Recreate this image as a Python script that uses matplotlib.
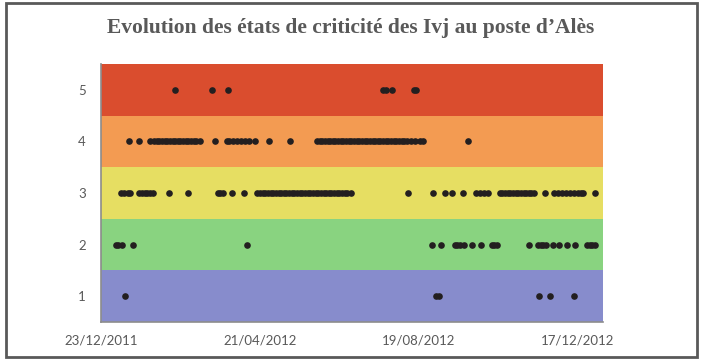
import datetime as dt
import matplotlib
matplotlib.use("Agg")
import matplotlib.pyplot as plt
import matplotlib.dates as mdates
from matplotlib.patches import Rectangle

# criticity states of the Ivj at the Alès post, as day offsets from the first date
start = dt.date(2011, 12, 23)
levels = [1, 2, 3, 4, 5]
band_colors = ["#878CCC", "#89D380", "#E6DE62", "#F39B52", "#DA4D2E"]

days_lvl5 = [56, 84, 96, 213, 215, 220, 236, 238]
days_lvl4 = [21, 29, 37, 40, 42, 44, 46, 48, 50, 52, 54, 56, 58, 60, 62, 64, 66,
             68, 70, 72, 75, 86, 95, 97, 100, 103, 106, 109, 112, 116, 127, 143,
             163, 165, 167, 169, 171, 173, 175, 177, 179, 181, 183, 185, 187, 189,
             191, 193, 195, 197, 199, 201, 203, 205, 207, 209, 211, 213, 215, 217,
             219, 221, 223, 225, 227, 229, 231, 234, 237, 241, 243, 277]
days_lvl3 = [15, 17, 20, 22, 29, 31, 33, 35, 37, 39, 51, 66, 88, 90, 92, 99, 108,
             118, 120, 122, 124, 126, 128, 130, 132, 134, 136, 138, 140, 142, 144,
             146, 148, 150, 152, 154, 156, 158, 160, 162, 164, 166, 168, 170, 172,
             174, 176, 178, 180, 182, 184, 186, 189, 232, 251, 260, 265, 273, 283,
             286, 289, 292, 301, 303, 305, 307, 309, 311, 313, 315, 317, 319, 321,
             323, 325, 327, 335, 342, 345, 348, 351, 354, 357, 360, 362, 364, 373]
days_lvl2 = [11, 13, 16, 24, 110, 250, 257, 267, 269, 271, 274, 280, 287, 295,
             297, 299, 323, 330, 332, 334, 336, 341, 346, 352, 358, 367, 369, 371,
             373]
days_lvl1 = [18, 253, 255, 331, 339, 357]

series = {5: days_lvl5, 4: days_lvl4, 3: days_lvl3, 2: days_lvl2, 1: days_lvl1}

tick_step = 120
span_days = 379

fig = plt.figure(figsize=(7.02, 3.6), dpi=100)
ax = fig.add_axes([0.1439, 0.1056, 0.7151, 0.7164])

for lvl, col in zip(levels, band_colors):
    ax.axhspan(lvl - 0.5, lvl + 0.5, color=col, lw=0, zorder=0)

for lvl, days in series.items():
    xs = [mdates.date2num(start + dt.timedelta(days=d)) for d in days]
    ax.scatter(xs, [lvl] * len(xs), s=23, color="#231F20", lw=0, zorder=3)

x0 = mdates.date2num(start)
ax.set_xlim(x0, x0 + span_days)
ax.set_ylim(0.5, 5.5)
ax.set_xticks([x0 + k * tick_step for k in range(4)])
ax.xaxis.set_major_formatter(mdates.DateFormatter("%d/%m/%Y"))
ax.set_yticks(levels)

for s in ["top", "right"]:
    ax.spines[s].set_visible(False)
for s in ["left", "bottom"]:
    ax.spines[s].set_color("#8C8C8C")
    ax.spines[s].set_linewidth(1.2)

ax.tick_params(axis="both", length=0, colors="#595959", labelsize=9.5)
ax.tick_params(axis="y", pad=11)
ax.tick_params(axis="x", pad=9)
for lab in ax.get_xticklabels() + ax.get_yticklabels():
    lab.set_fontfamily("Lato")

fig.text(0.5, 0.922, "Evolution des états de criticité des Ivj au poste d\u2019Alès",
         ha="center", va="center", fontsize=15.5, fontweight="bold",
         family="Liberation Serif", color="#595959")

# outer frame of the chart
fig.patches.append(Rectangle((0.009, 0.008), 0.984, 0.984, transform=fig.transFigure,
                             fill=False, edgecolor="#595959", lw=2))

fig.savefig("out.png", dpi=100)
